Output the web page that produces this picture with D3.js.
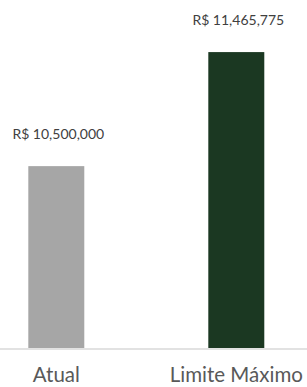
<!DOCTYPE html>
<html lang="pt">
<head>
<meta charset="utf-8">
<title>Atual vs Limite Máximo</title>
<script src="https://d3js.org/d3.v7.min.js"></script>
<style>
  body { margin: 0; background: #fff; }
  .axis path { stroke: #d9d9d9; stroke-width: 1.5; }
  .axis text { font-family: Lato, "Open Sans", sans-serif; font-size: 20.5px; fill: #595959; }
  .value-label { font-family: Lato, "Open Sans", sans-serif; font-size: 14px; fill: #404040; }
</style>
</head>
<body>
<svg id="chart"></svg>
<script>
// data
var categories = ["Atual", "Limite Máximo"];
var values = [10500000, 11465775];
var colors = ["#a6a6a6", "#1b3822"];
var valueLabels = ["R$ 10,500,000", "R$ 11,465,775"];

var width = 307, height = 387;
var baseY = 348;

var svg = d3.select("#chart")
    .attr("width", width)
    .attr("height", height);

// the plot is wider than the crop, so the band range spills past the edges
var x = d3.scaleBand()
    .domain(categories)
    .range([-33.7, 326.3])
    .paddingInner(0.689)
    .paddingOuter(0.689 / 2);

// value axis doesn't start at zero
var y = d3.scaleLinear()
    .domain([8960000, 12000000])
    .range([baseY, -11]);

var data = categories.map(function(c, i) {
  return { cat: c, value: values[i], color: colors[i], label: valueLabels[i] };
});

svg.selectAll(".bar")
  .data(data)
  .enter().append("rect")
    .attr("class", "bar")
    .attr("x", function(d) { return x(d.cat); })
    .attr("y", function(d) { return y(d.value); })
    .attr("width", x.bandwidth())
    .attr("height", function(d) { return baseY - y(d.value); })
    .attr("fill", function(d) { return d.color; });

svg.selectAll(".value-label")
  .data(data)
  .enter().append("text")
    .attr("class", "value-label")
    .attr("text-anchor", "middle")
    .attr("x", function(d) { return x(d.cat) + x.bandwidth() / 2 + 2; })
    .attr("y", function(d) { return y(d.value) - 27; })
    .text(function(d) { return d.label; });

// category axis
var xAxis = svg.append("g")
    .attr("class", "axis")
    .attr("transform", "translate(0," + (baseY + 0.5) + ")")
    .call(d3.axisBottom(x).tickSize(0).tickSizeOuter(0));

xAxis.selectAll("text")
    .attr("dy", null)
    .attr("y", 33.5);
</script>
</body>
</html>
